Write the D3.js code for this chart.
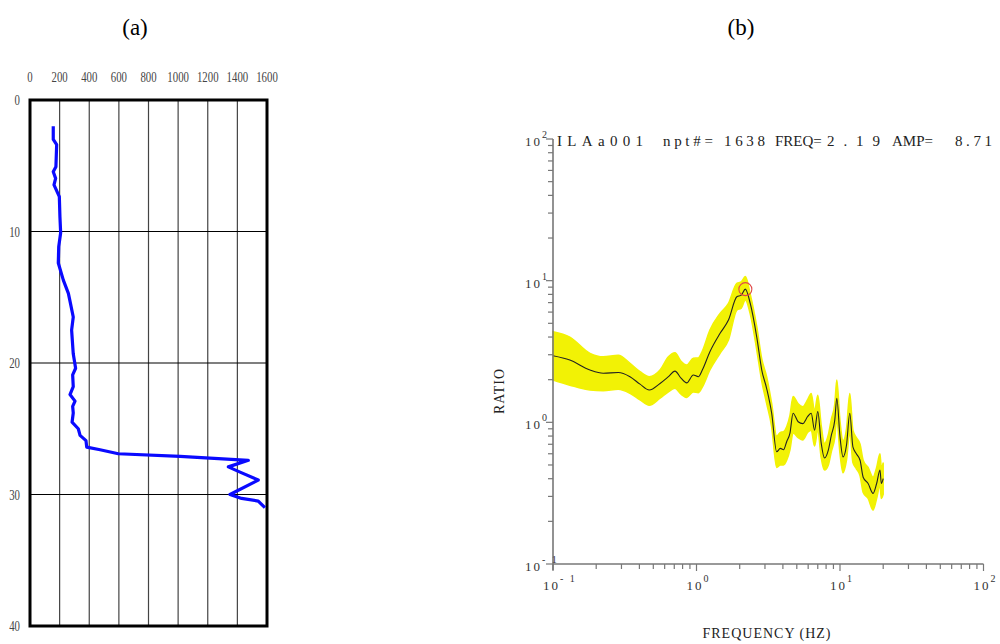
<!DOCTYPE html>
<html><head><meta charset="utf-8">
<script src="https://cdn.jsdelivr.net/npm/d3@7"></script>
<style>body{margin:0;background:#fff}svg{display:block}</style>
</head><body>
<svg id="c" width="1000" height="644"></svg>
<script>
// ---- Panel (a): shear-wave velocity profile ----
const vsTicks = [0,200,400,600,800,1000,1200,1400,1600];
const depthTicks = [0,10,20,30,40];
const depth = [2.0,3.0,3.4,5.07,5.45,5.96,6.46,7.35,8.87,10.1,11.15,12.4,13.7,14.7,15.3,16.5,17.5,19.3,20.4,20.9,21.8,22.4,22.9,23.3,23.8,24.5,25.0,25.5,25.9,26.4,26.6,26.9,27.1,27.4,27.9,28.3,28.9,30.0,30.3,30.5,31.0];
const vs    = [157,157,180,175,157,173,162,198,202,207,194,191,225,259,270,292,281,292,308,288,292,270,304,288,292,284,326,338,378,383,473,596,1013,1474,1339,1418,1541,1350,1429,1541,1586];

// ---- Panel (b): H/V spectral ratio ----
const freq = [0.100,0.131,0.181,0.224,0.285,0.344,0.404,0.469,0.557,0.637,0.708,0.780,0.855,0.95,1.03,1.10,1.24,1.46,1.67,1.91,2.05,2.19,2.37,2.63,2.85,3.08,3.34,3.62,3.84,4.04,4.25,4.48,4.71,5.11,5.50,5.96,6.30,6.65,7.00,7.40,7.80,8.30,8.70,9.20,9.50,10.0,10.5,11.1,11.7,12.3,13.0,13.8,14.5,15.7,17.0,18.0,19.0,19.4,20.0];
const ratio = [2.95,2.75,2.34,2.22,2.25,2.10,1.86,1.69,1.88,2.10,2.30,2.05,1.90,2.16,2.10,2.35,3.15,4.25,5.27,7.7,7.9,8.71,6.9,4.0,2.34,1.74,1.16,0.62,0.655,0.64,0.73,0.84,1.16,1.01,0.98,1.10,1.16,0.88,1.19,0.71,0.56,0.64,0.81,1.04,1.48,0.79,0.57,0.69,1.16,0.67,0.60,0.54,0.41,0.37,0.315,0.37,0.46,0.37,0.40];
const ratioLo = [1.99,1.83,1.69,1.67,1.71,1.60,1.44,1.32,1.48,1.64,1.74,1.58,1.50,1.64,1.62,1.78,2.34,3.07,3.81,6.2,6.4,7.3,5.8,3.24,1.95,1.36,0.93,0.48,0.50,0.50,0.54,0.64,0.84,0.78,0.75,0.85,0.88,0.68,0.88,0.56,0.46,0.50,0.62,0.78,1.05,0.60,0.44,0.54,0.85,0.52,0.47,0.42,0.32,0.29,0.24,0.29,0.36,0.29,0.31];
const ratioHi = [4.36,4.0,3.07,2.9,2.98,2.61,2.28,2.10,2.34,2.90,3.10,2.70,2.54,2.83,2.85,3.2,4.48,5.88,6.92,9.57,9.8,10.7,8.0,4.73,2.8,2.1,1.36,0.80,0.85,0.86,0.93,1.12,1.52,1.35,1.29,1.45,1.6,1.2,1.55,0.95,0.71,0.82,1.05,1.35,1.99,1.02,0.74,0.90,1.6,0.88,0.78,0.70,0.54,0.48,0.41,0.48,0.60,0.48,0.52];
const peakFreq = 2.19, peakAmp = 8.71;
const titleParts = ["ILAa001","npt#= 1638","FREQ=","2.19","AMP=","8.71"];

const svg = d3.select("#c");
const serif = "'Liberation Serif','Times New Roman',serif";

// ===== Panel (a) =====
const xa = d3.scaleLinear().domain([0,1600]).range([30,267]);
const ya = d3.scaleLinear().domain([0,40]).range([100,626]);
const ga = svg.append("g");
ga.append("text").attr("x",135).attr("y",35).attr("text-anchor","middle")
  .attr("font-family",serif).attr("font-size",23).text("(a)");
// vertical grid
ga.selectAll(".vg").data(vsTicks.slice(1,-1)).join("line")
  .attr("x1",d=>xa(d)).attr("x2",d=>xa(d)).attr("y1",ya(0)).attr("y2",ya(40))
  .attr("stroke","#444").attr("stroke-width",1.2);
// horizontal grid
ga.selectAll(".hg").data(depthTicks.slice(1,-1)).join("line")
  .attr("x1",xa(0)).attr("x2",xa(1600)).attr("y1",d=>ya(d)).attr("y2",d=>ya(d))
  .attr("stroke","#000").attr("stroke-width",1.2);
// frame
ga.append("rect").attr("x",xa(0)).attr("y",ya(0)).attr("width",xa(1600)-xa(0)).attr("height",ya(40)-ya(0))
  .attr("fill","none").attr("stroke","#000").attr("stroke-width",3);
// top labels
ga.selectAll(".tl").data(vsTicks).join("text")
  .attr("transform",d=>`translate(${xa(d)},82) scale(0.72,1)`).attr("text-anchor","middle")
  .attr("font-family",serif).attr("font-size",15).attr("fill","#444").text(d=>d);
// left labels
ga.selectAll(".ll").data(depthTicks).join("text")
  .attr("transform",d=>`translate(20,${ya(d)+5}) scale(0.72,1)`).attr("text-anchor","end")
  .attr("font-family",serif).attr("font-size",15).attr("fill","#444").text(d=>d);
// profile
const prof = depth.map((d,i)=>[vs[i],d]);
ga.append("path").datum(prof)
  .attr("d",d3.line().x(d=>xa(d[0])).y(d=>ya(d[1])))
  .attr("fill","none").attr("stroke","#0a0aff").attr("stroke-width",3.2)
  .attr("stroke-linejoin","round").attr("stroke-linecap","butt");

// ===== Panel (b) =====
const xb = d3.scaleLog().domain([0.1,100]).range([553,983.5]);
const yb = d3.scaleLog().domain([0.1,100]).range([564,139]);
const gb = svg.append("g");
gb.append("text").attr("x",741).attr("y",35).attr("text-anchor","middle")
  .attr("font-family",serif).attr("font-size",23).text("(b)");

const pts = freq.map((f,i)=>({f, m:ratio[i], lo:ratioLo[i], hi:ratioHi[i]}));
gb.append("path").datum(pts)
  .attr("d",d3.area().x(d=>xb(d.f)).y0(d=>yb(d.lo)).y1(d=>yb(d.hi)).curve(d3.curveMonotoneX))
  .attr("fill","#f2f205").attr("stroke","#f2f205").attr("stroke-width",1.5);
gb.append("path").datum(pts)
  .attr("d",d3.line().x(d=>xb(d.f)).y(d=>yb(d.m)).curve(d3.curveMonotoneX))
  .attr("fill","none").attr("stroke","#222").attr("stroke-width",1.1);
gb.append("circle").attr("cx",xb(peakFreq)).attr("cy",yb(peakAmp)).attr("r",6.5)
  .attr("fill","none").attr("stroke","#e04848").attr("stroke-width",1.1);

// axes
const axCol = "#777";
gb.append("line").attr("x1",xb(0.1)).attr("x2",xb(0.1)).attr("y1",yb(100)).attr("y2",yb(0.1)+6)
  .attr("stroke",axCol).attr("stroke-width",1.6);
gb.append("line").attr("x1",xb(0.1)).attr("x2",xb(100)).attr("y1",yb(0.1)).attr("y2",yb(0.1))
  .attr("stroke",axCol).attr("stroke-width",1.6);
const tv = yb.ticks();
gb.selectAll(".yt").data(tv).join("line")
  .attr("x1",xb(0.1)).attr("x2",d=>xb(0.1)-(Math.abs(Math.log10(d)%1)<1e-9?7:5))
  .attr("y1",d=>yb(d)).attr("y2",d=>yb(d)).attr("stroke",axCol).attr("stroke-width",1.2);
const tx = xb.ticks();
gb.selectAll(".xt").data(tx).join("line")
  .attr("y1",yb(0.1)).attr("y2",d=>yb(0.1)+(Math.abs(Math.log10(d)%1)<1e-9?7:5))
  .attr("x1",d=>xb(d)).attr("x2",d=>xb(d)).attr("stroke",axCol).attr("stroke-width",1.2);
const decades = [-1,0,1,2];
decades.forEach(e=>{
  // y labels
  const t = gb.append("text").attr("x",525).attr("y",yb(Math.pow(10,e))+7)
    .attr("font-family",serif).attr("font-size",13).attr("fill","#333");
  t.append("tspan").attr("letter-spacing",2).text("10");
  t.append("tspan").attr("font-size",10).attr("dy",-8).attr("letter-spacing",2).text(e<0?"- 1":String(e));
  // x labels
  const u = gb.append("text").attr("x",xb(Math.pow(10,e))-10).attr("y",590)
    .attr("font-family",serif).attr("font-size",13).attr("fill","#333");
  u.append("tspan").attr("letter-spacing",2).text("10");
  u.append("tspan").attr("font-size",10).attr("dy",-8).attr("letter-spacing",2).text(e<0?"- 1":String(e));
});
// title
const tPos = [[557,86],[663,102],[775,null],[827,53],[892,null],[955,37]];
titleParts.forEach((s,i)=>{
  const t = gb.append("text").attr("x",tPos[i][0]).attr("y",146)
    .attr("font-family",serif).attr("font-size",15).attr("fill","#222").text(s);
  if(tPos[i][1]) t.attr("textLength",tPos[i][1]).attr("lengthAdjust","spacing");
});
// axis titles
gb.append("text").attr("transform","translate(504,391) rotate(-90)").attr("text-anchor","middle")
  .attr("font-family",serif).attr("font-size",14).attr("letter-spacing",1).attr("fill","#222").text("RATIO");
gb.append("text").attr("x",767).attr("y",638).attr("text-anchor","middle")
  .attr("font-family",serif).attr("font-size",14).attr("letter-spacing",1).attr("fill","#222").text("FREQUENCY (HZ)");
</script>
</body></html>
